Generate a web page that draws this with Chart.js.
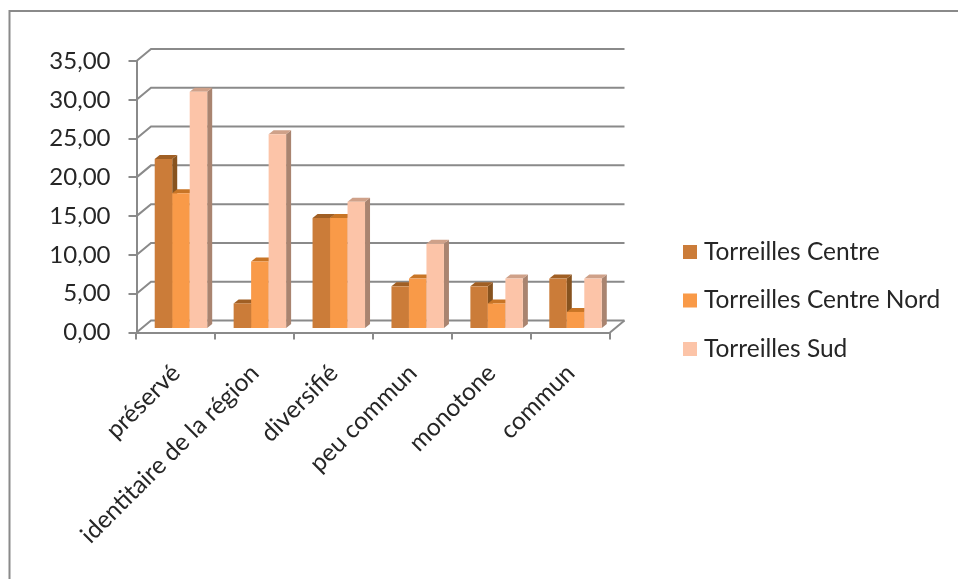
<!DOCTYPE html>
<html lang="fr">
<head>
  <meta charset="UTF-8">
  <title>Torreilles</title>
  <script src="https://cdn.jsdelivr.net/npm/chart.js"></script>
  <style>
    html, body { margin: 0; padding: 0; background: #fff; overflow: hidden; }
    canvas { display: block; filter: blur(0.4px); }
  </style>
</head>
<body>
  <canvas id="chart" width="958" height="579"></canvas>
  <script>
    const categories = ['préservé', 'identitaire de la région', 'diversifié', 'peu commun', 'monotone', 'commun'];
    const centre = [21.9, 3.3, 14.3, 5.5, 5.5, 6.5];
    const centreNord = [17.5, 8.7, 14.3, 6.5, 3.3, 2.2];
    const sud = [30.6, 25.1, 16.4, 11.0, 6.5, 6.5];
    const yTicksMax = 35;
    const yTicksStep = 5;

    const GREY = '#8a8a8a';
    const TEXT = '#262626';
    const FONT = 'Lato, sans-serif';

    // fake 3D: floor/wall go back by WALL, bars stand a bit behind the front plane
    const WALL = { x: 14.5, y: -12 };
    const BAR_SHIFT = { x: 5, y: -3.5 };
    const BAR_DEPTH = { x: 5, y: -4 };

    function drawBarDepth(ctx, ds, bar) {
      const l = bar.x - bar.width / 2, r = bar.x + bar.width / 2;
      const top = bar.y, base = bar.base;
      ctx.fillStyle = ds.sideColor;
      ctx.beginPath();
      ctx.moveTo(r, top);
      ctx.lineTo(r + BAR_DEPTH.x, top + BAR_DEPTH.y);
      ctx.lineTo(r + BAR_DEPTH.x, base + BAR_DEPTH.y);
      ctx.lineTo(r, base);
      ctx.closePath();
      ctx.fill();
      ctx.fillStyle = ds.topColor;
      ctx.beginPath();
      ctx.moveTo(l, top);
      ctx.lineTo(l + BAR_DEPTH.x, top + BAR_DEPTH.y);
      ctx.lineTo(r + BAR_DEPTH.x, top + BAR_DEPTH.y);
      ctx.lineTo(r, top);
      ctx.closePath();
      ctx.fill();
    }

    const threeD = {
      id: 'threeD',
      afterLayout(chart) {
        // legend sits to the right of the plot, not inside it
        const lg = chart.legend;
        const w = lg.width, h = lg.height;
        lg.left = 664.25; lg.right = 664.25 + w;
        lg.top = 215.75; lg.bottom = 215.75 + h;
      },
      beforeDraw(chart) {
        const ctx = chart.ctx;
        ctx.save();
        ctx.strokeStyle = GREY;
        ctx.lineWidth = 2;
        ctx.beginPath();
        ctx.moveTo(9.5, 579);
        ctx.lineTo(9.5, 11);
        ctx.lineTo(958, 11);
        ctx.stroke();
        ctx.restore();
      },
      beforeDatasetsDraw(chart) {
        const { ctx, chartArea, scales } = chart;
        ctx.save();
        ctx.strokeStyle = GREY;
        ctx.lineWidth = 2;
        scales.y.ticks.forEach(t => {
          const y = scales.y.getPixelForValue(t.value);
          ctx.beginPath();
          ctx.moveTo(chartArea.left, y);
          ctx.lineTo(chartArea.left + WALL.x, y + WALL.y);
          ctx.lineTo(chartArea.right + WALL.x, y + WALL.y);
          ctx.stroke();
        });
        // right edge of the floor
        const y0 = scales.y.getPixelForValue(0);
        ctx.beginPath();
        ctx.moveTo(chartArea.right, y0);
        ctx.lineTo(chartArea.right + WALL.x, y0 + WALL.y);
        ctx.stroke();
        ctx.restore();
      },
      // the library paints the last dataset first, the bars need left to right here
      beforeDatasetDraw() {
        return false;
      },
      afterDatasetsDraw(chart) {
        const ctx = chart.ctx;
        ctx.save();
        ctx.translate(BAR_SHIFT.x, BAR_SHIFT.y);
        chart.data.datasets.forEach((ds, i) => {
          const meta = chart.getDatasetMeta(i);
          meta.data.forEach(bar => drawBarDepth(ctx, ds, bar));
          meta.controller.draw();
        });
        ctx.restore();
      }
    };

    new Chart(document.getElementById('chart'), {
      type: 'bar',
      plugins: [threeD],
      data: {
        labels: categories,
        datasets: [
          { label: 'Torreilles Centre', data: centre, backgroundColor: '#CB7C39', topColor: '#A05F24', sideColor: '#87531F' },
          { label: 'Torreilles Centre Nord', data: centreNord, backgroundColor: '#F99A48', topColor: '#C87526', sideColor: '#A9682E' },
          { label: 'Torreilles Sud', data: sud, backgroundColor: '#FCC4A8', topColor: '#CFA189', sideColor: '#A98470' }
        ]
      },
      options: {
        responsive: false,
        animation: false,
        categoryPercentage: 0.665,
        barPercentage: 1,
        layout: { padding: { top: 61, right: 348, left: 0, bottom: 0 } },
        plugins: {
          tooltip: { enabled: false },
          legend: {
            position: 'chartArea',
            align: 'start',
            labels: {
              usePointStyle: true,
              pointStyle: 'rect',
              boxWidth: 3.5,
              boxHeight: 14,
              padding: 24,
              color: TEXT,
              font: { family: FONT, size: 24.5 }
            }
          }
        },
        scales: {
          x: {
            afterFit(scale) { scale.height = 246.5; },
            border: { color: GREY, width: 2 },
            grid: { offset: true, drawOnChartArea: false, color: GREY, lineWidth: 2, tickLength: 7 },
            ticks: { autoSkip: false, minRotation: 45, maxRotation: 45, padding: 19, color: TEXT, font: { family: FONT, size: 24.5 } }
          },
          y: {
            min: 0,
            max: yTicksMax,
            afterFit(scale) { scale.width = 136.5; },
            border: { color: GREY, width: 2 },
            grid: { drawOnChartArea: false, color: GREY, lineWidth: 2, tickLength: 8 },
            ticks: {
              stepSize: yTicksStep,
              padding: 18,
              color: TEXT,
              font: { family: FONT, size: 24 },
              callback: v => v.toFixed(2).replace('.', ',')
            }
          }
        }
      }
    });
  </script>
</body>
</html>
